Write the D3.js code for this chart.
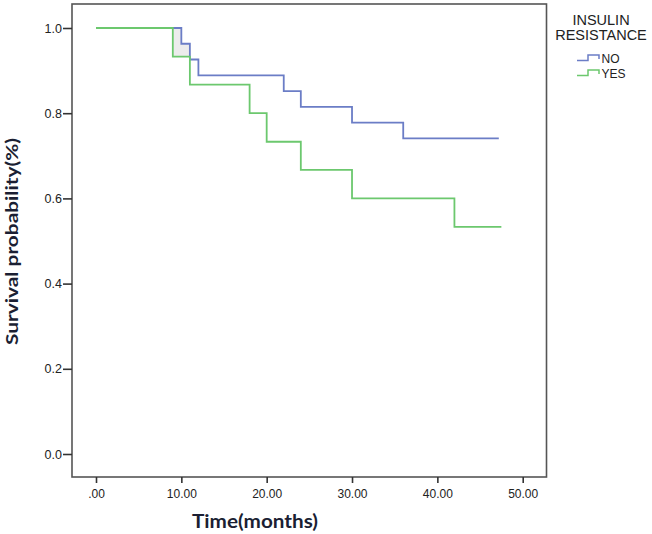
<!DOCTYPE html>
<html>
<head>
<meta charset="utf-8">
<script src="https://cdn.jsdelivr.net/npm/d3@7"></script>
<style>
  html, body { margin: 0; padding: 0; background: #fff; }
  svg { display: block; }
</style>
</head>
<body>
<svg id="chart" width="652" height="534"></svg>
<script>
// ---- data ----
const groups = ["NO", "YES"];
const timeNO = [0, 10, 11, 12, 22, 24, 30, 36, 47.2];
const survNO = [1.0, 0.963, 0.926, 0.889, 0.852, 0.815, 0.778, 0.741, 0.741];
const timeYES = [0, 9, 11, 18, 20, 24, 30, 42, 47.5];
const survYES = [1.0, 0.933, 0.867, 0.800, 0.733, 0.667, 0.600, 0.533, 0.533];
// shaded region between curves (t 9..11)
const shadeTime = [9, 10, 11];
const shadeUpper = [1.0, 0.963, 0.963];
const shadeLower = [0.933, 0.933, 0.933];
const xTicks = [0, 10, 20, 30, 40, 50];
const xTickLabels = [".00", "10.00", "20.00", "30.00", "40.00", "50.00"];
const yTicks = [0, 0.2, 0.4, 0.6, 0.8, 1.0];
const yTickLabels = ["0.0", "0.2", "0.4", "0.6", "0.8", "1.0"];
const colors = { NO: "#6b7dc6", YES: "#6cc86e" };

// ---- layout ----
const frame = { left: 72, right: 546.5, top: 4, bottom: 477 };
const svg = d3.select("#chart");
const x = d3.scaleLinear().domain([0, 50]).range([96, 522.7]);
const y = d3.scaleLinear().domain([0, 1]).range([454, 28]);

// shaded area
const shadePts = shadeTime.map((t, i) => ({ t, hi: shadeUpper[i], lo: shadeLower[i] }));
svg.append("path")
  .attr("d", d3.area().curve(d3.curveStepAfter)
    .x(d => x(d.t)).y0(d => y(d.lo)).y1(d => y(d.hi))(shadePts))
  .attr("fill", "#ececec").attr("stroke", "none");

// curves
const line = d3.line().curve(d3.curveStepAfter).x(d => x(d[0])).y(d => y(d[1]));
const seriesNO = timeNO.map((t, i) => [t, survNO[i]]);
const seriesYES = timeYES.map((t, i) => [t, survYES[i]]);
svg.append("path").attr("d", line(seriesNO)).attr("fill", "none")
  .attr("stroke", colors.NO).attr("stroke-width", 1.8);
svg.append("path").attr("d", line(seriesYES)).attr("fill", "none")
  .attr("stroke", colors.YES).attr("stroke-width", 1.8);

// frame
svg.append("rect")
  .attr("x", frame.left).attr("y", frame.top)
  .attr("width", frame.right - frame.left).attr("height", frame.bottom - frame.top)
  .attr("fill", "none").attr("stroke", "#555").attr("stroke-width", 1.6);

// axes
const xAxis = d3.axisBottom(x).tickValues(xTicks)
  .tickFormat((d, i) => xTickLabels[i]).tickSize(6).tickPadding(6);
const gx = svg.append("g").attr("transform", `translate(0,${frame.bottom})`).call(xAxis);
gx.select(".domain").remove();
gx.selectAll(".tick line").attr("stroke", "#333").attr("stroke-width", 1.6);
gx.selectAll(".tick text").attr("fill", "#222")
  .style("font-family", "Arial, 'Liberation Sans', sans-serif").style("font-size", "12px");

const yAxis = d3.axisLeft(y).tickValues(yTicks)
  .tickFormat((d, i) => yTickLabels[i]).tickSize(9).tickPadding(1);
const gy = svg.append("g").attr("transform", `translate(${frame.left},0)`).call(yAxis);
gy.select(".domain").remove();
gy.selectAll(".tick line").attr("stroke", "#333").attr("stroke-width", 1.6);
gy.selectAll(".tick text").attr("fill", "#222")
  .style("font-family", "Arial, 'Liberation Sans', sans-serif").style("font-size", "12.5px");

// axis titles
svg.append("text").text("Time(months)")
  .attr("x", 255).attr("y", 528).attr("text-anchor", "middle")
  .attr("textLength", 126).attr("lengthAdjust", "spacingAndGlyphs")
  .attr("fill", "#1b1f33")
  .style("font-family", "Lato, 'Open Sans', sans-serif").style("font-weight", "bold").style("font-size", "19px");

svg.append("text").text("Survival probability(%)")
  .attr("transform", "translate(17.5,241.5) rotate(-90)").attr("text-anchor", "middle")
  .attr("textLength", 207).attr("lengthAdjust", "spacingAndGlyphs")
  .attr("fill", "#1b1f33")
  .style("font-family", "Lato, 'Open Sans', sans-serif").style("font-weight", "bold").style("font-size", "17px");

// legend
const lg = svg.append("g").style("font-family", "Arial, 'Liberation Sans', sans-serif");
lg.append("text").text("INSULIN").attr("x", 601).attr("y", 25).attr("text-anchor", "middle")
  .attr("fill", "#222").style("font-size", "14.5px");
lg.append("text").text("RESISTANCE").attr("x", 601).attr("y", 39.5).attr("text-anchor", "middle")
  .attr("fill", "#222").style("font-size", "14.5px");
groups.forEach((g, i) => {
  const cy = 58 + i * 15;
  lg.append("path")
    .attr("d", `M577,${cy + 2.5}H588V${cy - 3}H599V${cy + 1}`)
    .attr("fill", "none").attr("stroke", colors[g]).attr("stroke-width", 1.5);
  lg.append("text").text(g).attr("x", 601.5).attr("y", cy + 4.5)
    .attr("fill", "#222").style("font-size", "12px");
});
</script>
</body>
</html>
